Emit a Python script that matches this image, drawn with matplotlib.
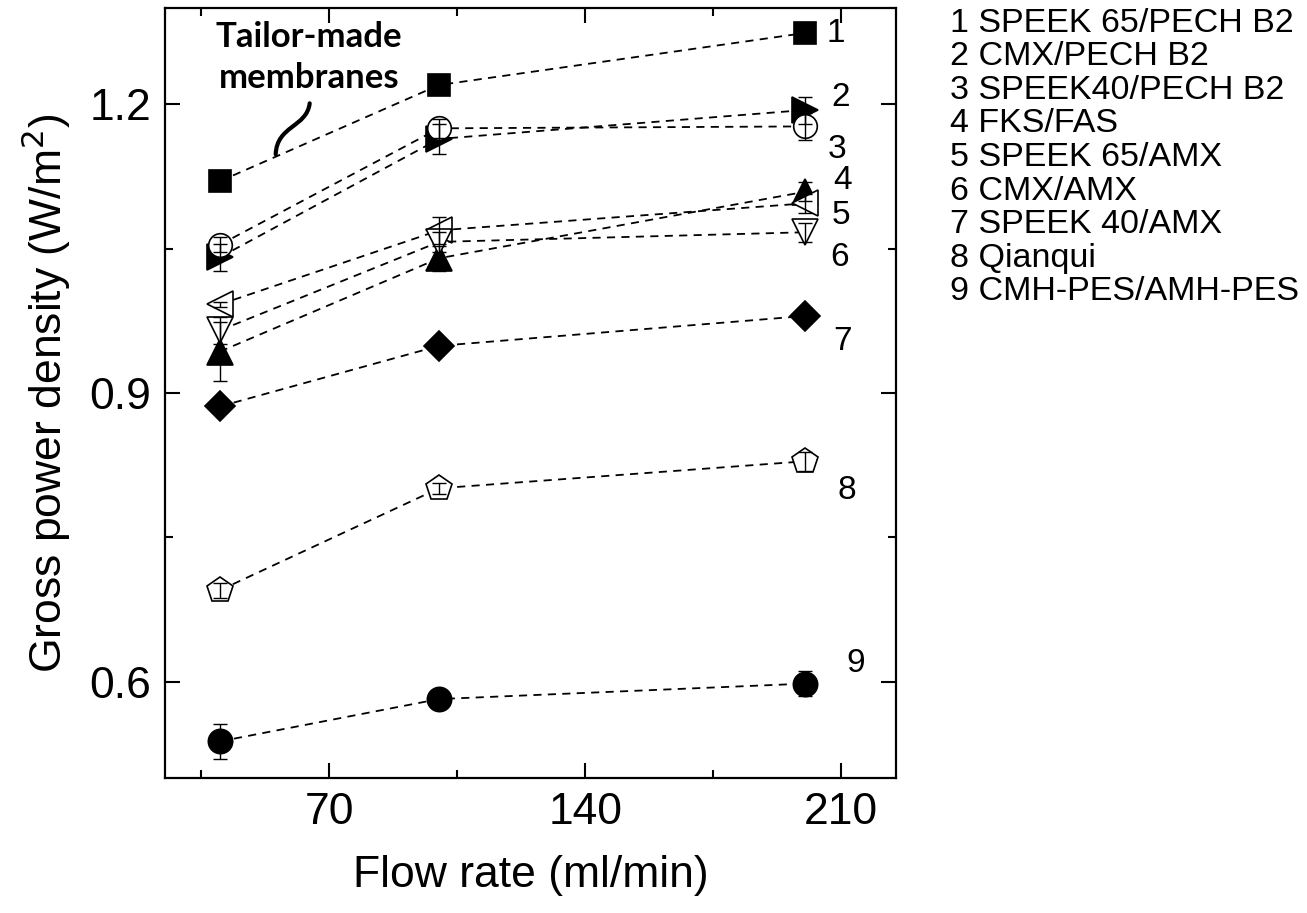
import matplotlib
matplotlib.use("Agg")
import matplotlib.pyplot as plt
from matplotlib.path import Path
from matplotlib.patches import PathPatch
from matplotlib.ticker import MultipleLocator

plt.rcParams["font.family"] = ["Liberation Sans", "DejaVu Sans"]

flow = [40, 100, 200]

names = ["SPEEK 65/PECH B2", "CMX/PECH B2", "SPEEK40/PECH B2", "FKS/FAS",
         "SPEEK 65/AMX", "CMX/AMX", "SPEEK 40/AMX", "Qianqui", "CMH-PES/AMH-PES"]

s1 = [1.120, 1.220, 1.274]
s2 = [1.041, 1.164, 1.194]
s3 = [1.054, 1.175, 1.177]
s4 = [0.943, 1.040, 1.109]
s5 = [0.992, 1.069, 1.097]
s6 = [0.965, 1.057, 1.067]
s7 = [0.886, 0.949, 0.980]
s8 = [0.695, 0.801, 0.829]
s9 = [0.538, 0.582, 0.598]

e1 = [0.004, 0.004, 0.004]
e2 = [0.014, 0.016, 0.014]
e3 = [0.008, 0.010, 0.014]
e4 = [0.031, 0.013, 0.010]
e5 = [0.003, 0.014, 0.010]
e6 = [0.014, 0.010, 0.010]
e7 = [0.003, 0.003, 0.003]
e8 = [0.008, 0.006, 0.010]
e9 = [0.018, 0.005, 0.013]

series = [s1, s2, s3, s4, s5, s6, s7, s8, s9]
errors = [e1, e2, e3, e4, e5, e6, e7, e8, e9]

# marker, filled, size
styles = [("s", True, 16), (">", True, 19), ("o", False, 17), ("^", True, 19),
          ("<", False, 19), ("v", False, 19), ("D", True, 15.5), ("p", False, 19),
          ("o", True, 17.5)]

# where the numbers next to the last points sit
label_pos = [(208.5, 1.274), (210, 1.207), (209, 1.153), (210.5, 1.121), (210, 1.084),
             (209.5, 1.041), (210.5, 0.953), (211.5, 0.799), (214, 0.619)]

fig = plt.figure(figsize=(13.07, 9.13), dpi=100)
ax = fig.add_axes([0.1262, 0.1479, 0.5593, 0.8433])

for i, (y, err, (m, filled, ms)) in enumerate(zip(series, errors, styles)):
    ax.plot(flow, y, linestyle=(0, (4.5, 3.5)), color="black", lw=1.3,
            marker=m, markersize=ms, markerfacecolor="black" if filled else "white",
            markeredgecolor="black", markeredgewidth=1.2, zorder=3)
    ax.errorbar(flow, y, yerr=err, fmt="none", ecolor="black", elinewidth=1,
                capsize=4.7, capthick=1, zorder=4)
    ax.text(label_pos[i][0], label_pos[i][1], str(i + 1), fontsize=24,
            ha="center", va="center")

ax.set_xlim(25, 225)
ax.set_ylim(0.5, 1.3)
ax.xaxis.set_minor_locator(MultipleLocator(35))
ax.yaxis.set_minor_locator(MultipleLocator(0.15))
ax.set_xticks([70, 140, 210])
ax.set_yticks([0.6, 0.9, 1.2])
ax.set_yticklabels(["0.6", "0.9", "1.2"])
ax.tick_params(which="both", direction="in", top=True, right=True, width=1.5)
ax.tick_params(which="major", length=11, labelsize=32, pad=10)
ax.tick_params(which="minor", length=6)
for sp in ax.spines.values():
    sp.set_linewidth(1.6)

ax.set_xlabel("Flow rate (ml/min)", fontsize=32, labelpad=16)
ax.set_ylabel("Gross power density (W/m$^2$)", fontsize=32, labelpad=12)

# annotation for the tailor-made membranes
ax.text(64.4, 1.249, "Tailor-made\nmembranes", fontsize=25, fontweight="bold",
        family=["Lato", "DejaVu Sans"], ha="center", va="center", linespacing=1.35)
verts = [(64.6, 1.201), (63.8, 1.176), (55.6, 1.178), (55.3, 1.148)]
codes = [Path.MOVETO, Path.CURVE4, Path.CURVE4, Path.CURVE4]
ax.add_patch(PathPatch(Path(verts, codes), fill=False, lw=3, capstyle="round"))

# membrane list on the right
for i, n in enumerate(names):
    fig.text(0.727, 1 - (23 + 33.6 * i) / 913, f"{i + 1} {n}", fontsize=24.5,
             ha="left", va="center")

fig.savefig("out.png", dpi=100)
